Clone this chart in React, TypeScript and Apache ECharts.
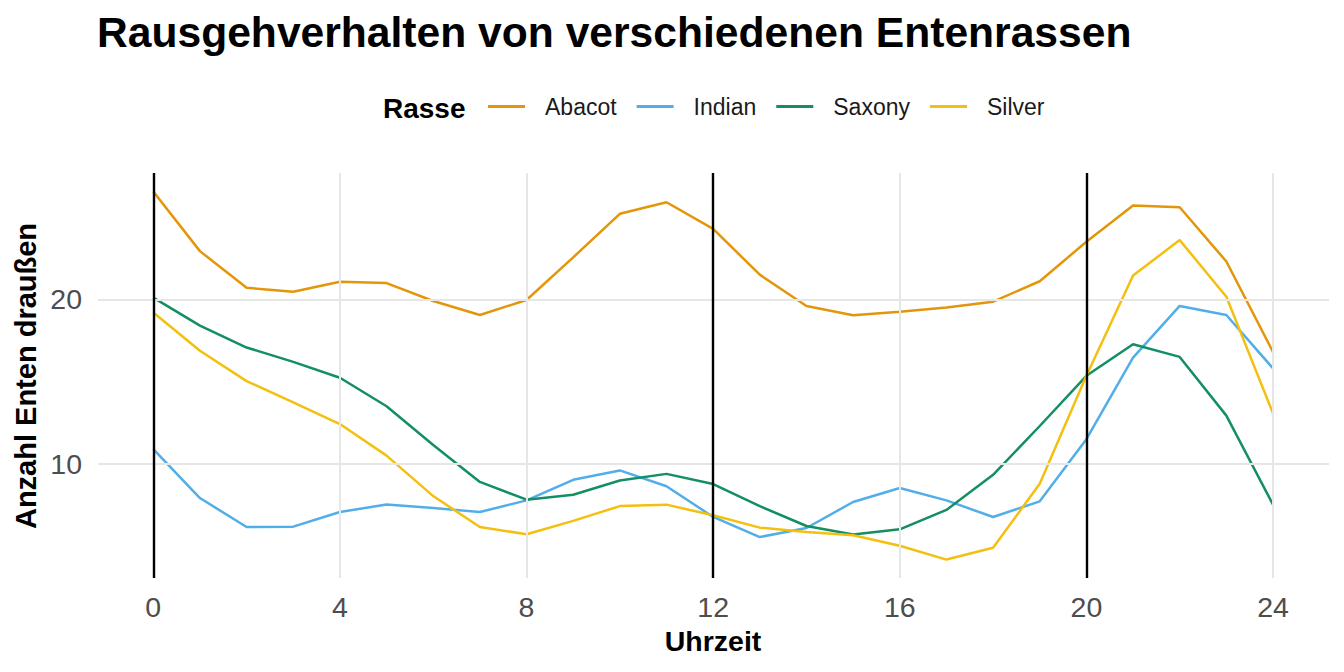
import React, { useEffect, useRef } from "react";
import * as echarts from "echarts";

const hours = [0, 1, 2, 3, 4, 5, 6, 7, 8, 9, 10, 11, 12, 13, 14, 15, 16, 17, 18, 19, 20, 21, 22, 23, 24];
const abacot = [26.56, 22.93, 20.7, 20.46, 21.07, 20.99, 19.9, 19.05, 19.96, 22.55, 25.2, 25.9, 24.28, 21.5, 19.6, 19.03, 19.25, 19.5, 19.86, 21.1, 23.5, 25.7, 25.6, 22.3, 16.8];
const indian = [10.9, 7.92, 6.16, 6.18, 7.07, 7.53, 7.31, 7.07, 7.78, 9.03, 9.6, 8.64, 6.77, 5.55, 6.1, 7.68, 8.53, 7.78, 6.77, 7.72, 11.5, 16.46, 19.6, 19.05, 15.8];
const saxony = [20.1, 18.4, 17.07, 16.2, 15.23, 13.5, 11.15, 8.9, 7.82, 8.12, 8.99, 9.39, 8.77, 7.43, 6.22, 5.7, 6.02, 7.2, 9.33, 12.3, 15.35, 17.27, 16.5, 12.93, 7.52];
const silver = [19.2, 16.87, 15.03, 13.74, 12.42, 10.5, 8.04, 6.16, 5.72, 6.53, 7.43, 7.52, 6.87, 6.12, 5.86, 5.66, 5.02, 4.18, 4.9, 8.79, 15.35, 21.45, 23.6, 20.16, 13.07];

const seriesNames = ["Abacot", "Indian", "Saxony", "Silver"];
const seriesColors = ["#E3960A", "#52AEE8", "#138F62", "#F3C010"];
const xTicks = [0, 4, 8, 12, 16, 20, 24];
const yTicks = [10, 20];
const blackLines = [0, 12, 20];

const FONT = "Liberation Sans, Arial, Helvetica, sans-serif";

export default function App() {
  const ref = useRef<HTMLDivElement>(null);
  useEffect(() => {
    document.body.style.margin = "0";
    if (!ref.current) return;
    const chart = echarts.init(ref.current, undefined, { renderer: "svg" });
    const allData = [abacot, indian, saxony, silver];
    const lineSeries = allData.map((vals, i) => ({
      name: seriesNames[i],
      type: "line",
      data: hours.map((h, j) => [h, vals[j]]),
      showSymbol: false,
      symbol: "none",
      smooth: false,
      z: 3,
      lineStyle: { color: seriesColors[i], width: 2.5 },
      itemStyle: { color: seriesColors[i] },
    }));
    chart.setOption({
      animation: false,
      backgroundColor: "#ffffff",
      textStyle: { fontFamily: FONT },
      grid: { left: 98, right: 15, top: 173, bottom: 94, containLabel: false },
      legend: {
        data: seriesNames,
        left: 488,
        top: 95,
        padding: 0,
        icon: "rect",
        itemWidth: 37,
        itemHeight: 3,
        itemGap: 20,
        textStyle: { fontSize: 23, color: "#1a1a1a", fontFamily: FONT, padding: [0, 0, 0, 15] },
      },
      xAxis: {
        type: "value",
        min: -1.185,
        max: 25.2,
        axisLine: { show: false },
        axisTick: { show: false, customValues: xTicks },
        splitLine: { show: false },
        axisLabel: {
          customValues: xTicks,
          fontSize: 28.5,
          color: "#4D4D4D",
          margin: 14,
          fontFamily: FONT,
        },
      },
      yAxis: {
        type: "value",
        min: 3.06,
        max: 27.68,
        axisLine: { show: false },
        axisTick: { show: false, customValues: yTicks },
        splitLine: { show: false },
        axisLabel: {
          customValues: yTicks,
          fontSize: 28.5,
          color: "#4D4D4D",
          margin: 16,
          fontFamily: FONT,
        },
      },
      graphic: [
        {
          type: "text",
          left: 97,
          top: 10,
          style: {
            text: "Rausgehverhalten von verschiedenen Entenrassen",
            font: `bold 42.6px ${FONT}`,
            fill: "#000000",
          },
        },
        {
          type: "text",
          x: 383,
          y: 108.7,
          style: {
            text: "Rasse",
            font: `bold 28px ${FONT}`,
            fill: "#000000",
            verticalAlign: "middle",
            align: "left",
          },
        },
        {
          type: "text",
          x: 713,
          y: 641,
          style: {
            text: "Uhrzeit",
            font: `bold 28.5px ${FONT}`,
            fill: "#000000",
            verticalAlign: "middle",
            align: "center",
          },
        },
        {
          type: "text",
          x: 26,
          y: 376,
          rotation: Math.PI / 2,
          style: {
            text: "Anzahl Enten draußen",
            font: `bold 29px ${FONT}`,
            fill: "#000000",
            verticalAlign: "middle",
            align: "center",
          },
        },
      ],
      series: [
        {
          name: "grid",
          type: "line",
          data: [],
          z: 1,
          silent: true,
          markLine: {
            silent: true,
            symbol: ["none", "none"],
            label: { show: false },
            lineStyle: { color: "#E6E6E6", width: 2, type: "solid" },
            data: [
              ...xTicks.map((v) => ({ xAxis: v })),
              ...yTicks.map((v) => ({ yAxis: v })),
            ],
          },
        },
        ...lineSeries,
        {
          name: "vlines",
          type: "line",
          data: [],
          z: 5,
          silent: true,
          markLine: {
            silent: true,
            symbol: ["none", "none"],
            label: { show: false },
            lineStyle: { color: "#000000", width: 2.4, type: "solid" },
            data: blackLines.map((v) => ({ xAxis: v })),
          },
        },
      ],
    });
    return () => chart.dispose();
  }, []);
  return <div ref={ref} style={{ width: 1344, height: 672 }} />;
}
